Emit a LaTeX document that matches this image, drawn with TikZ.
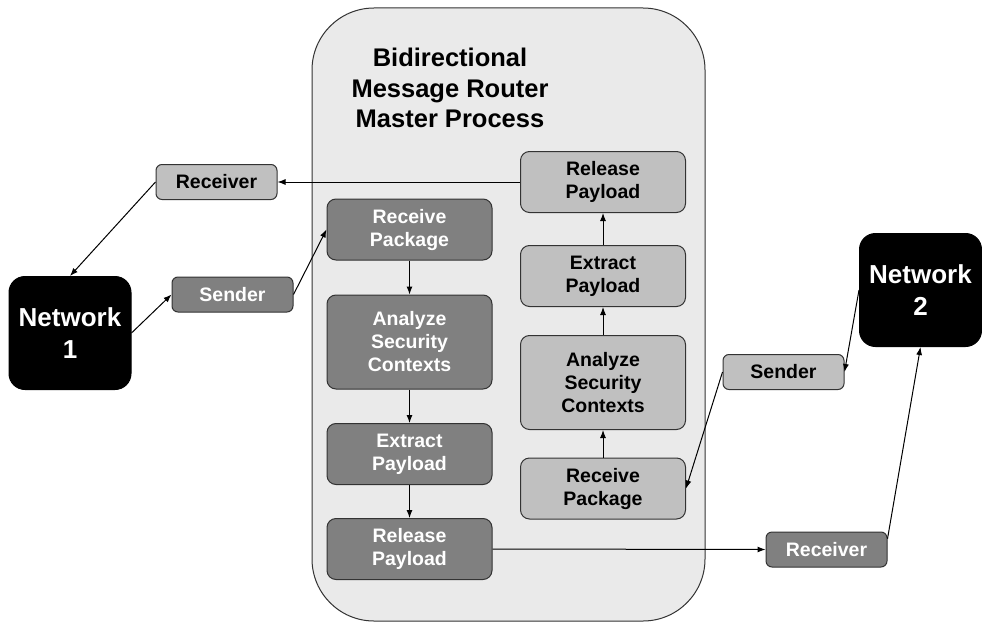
\documentclass[tikz,border=0pt]{standalone}
\usepackage{fontspec}
\setmainfont{Liberation Sans}
\usetikzlibrary{arrows.meta,positioning}

\definecolor{routerbg}{RGB}{234,234,234}
\definecolor{darkbox}{RGB}{128,128,128}
\definecolor{lightbox}{RGB}{192,192,192}

\newcommand{\boxfont}{\fontsize{19.5}{23}\selectfont\bfseries}
\newcommand{\netfont}{\fontsize{26}{32}\selectfont\bfseries}
\newcommand{\titlefont}{\fontsize{25.5}{30.5}\selectfont\bfseries}

\tikzset{
  stage/.style={draw=black!80, rounded corners=9pt, align=center, font=\boxfont,
    inner sep=0pt, minimum width=165pt, minimum height=61pt},
  darkstage/.style={stage, fill=darkbox, text=white},
  lightstage/.style={stage, fill=lightbox, text=black},
  tall/.style={minimum height=94pt},
  port/.style={minimum width=121pt, minimum height=35pt, rounded corners=6pt},
  network/.style={draw=black, fill=black, text=white, rounded corners=16pt, align=center,
    font=\netfont, inner sep=0pt, minimum width=122pt, minimum height=113pt},
  router/.style={draw=black!80, fill=routerbg, rounded corners=62pt,
    minimum width=393pt, minimum height=613pt}
}

\begin{document}
\begin{tikzpicture}[x=1pt,y=-1pt,>={Latex[length=8pt,width=6pt]},line width=1pt]
  \useasboundingbox (0,0) rectangle (982,623);

  % master process
  \node[router] (router) at (508.5,314.5) {};
  \node[font=\titlefont, align=center, anchor=base] (title) at (450,128)
    {Bidirectional\\Message Router\\Master Process};

  % network 1 to network 2
  \node[darkstage]      (aRecv) at (409.5,229.5) {Receive\\Package};
  \node[darkstage,tall] (aSec)  at (409.5,342)   {Analyze\\Security\\Contexts};
  \node[darkstage]      (aExt)  at (409.5,454)   {Extract\\Payload};
  \node[darkstage]      (aRel)  at (409.5,549)   {Release\\Payload};

  % network 2 to network 1
  \node[lightstage]      (bRel)  at (603,182)   {Release\\Payload};
  \node[lightstage]      (bExt)  at (603,276)   {Extract\\Payload};
  \node[lightstage,tall] (bSec)  at (603,382.5) {Analyze\\Security\\Contexts};
  \node[lightstage]      (bRecv) at (603,488.5) {Receive\\Package};

  % networks and ports
  \node[network] (net1) at (70,333)    {Network\\1};
  \node[network] (net2) at (920.5,290) {Network\\2};
  \node[lightstage,port] (rcv1) at (216.5,182)   {Receiver};
  \node[darkstage,port]  (snd1) at (232.5,294.5) {Sender};
  \node[lightstage,port] (snd2) at (783.5,372)   {Sender};
  \node[darkstage,port]  (rcv2) at (826.5,549.5) {Receiver};

  \path[->] (net1.east)  edge (snd1.west)
            (snd1.east)  edge (aRecv.west)
            (aRecv)      edge (aSec)
            (aSec)       edge (aExt)
            (aExt)       edge (aRel)
            (aRel.east)  edge (rcv2.west)
            (rcv2.10)    edge (net2.south);

  \path[->] (net2.west)  edge (snd2.east)
            (snd2.west)  edge (bRecv.east)
            (bRecv)      edge (bSec)
            (bSec)       edge (bExt)
            (bExt)       edge (bRel)
            (bRel.west)  edge (rcv1.east)
            (rcv1.west)  edge (net1.north);
\end{tikzpicture}
\end{document}
